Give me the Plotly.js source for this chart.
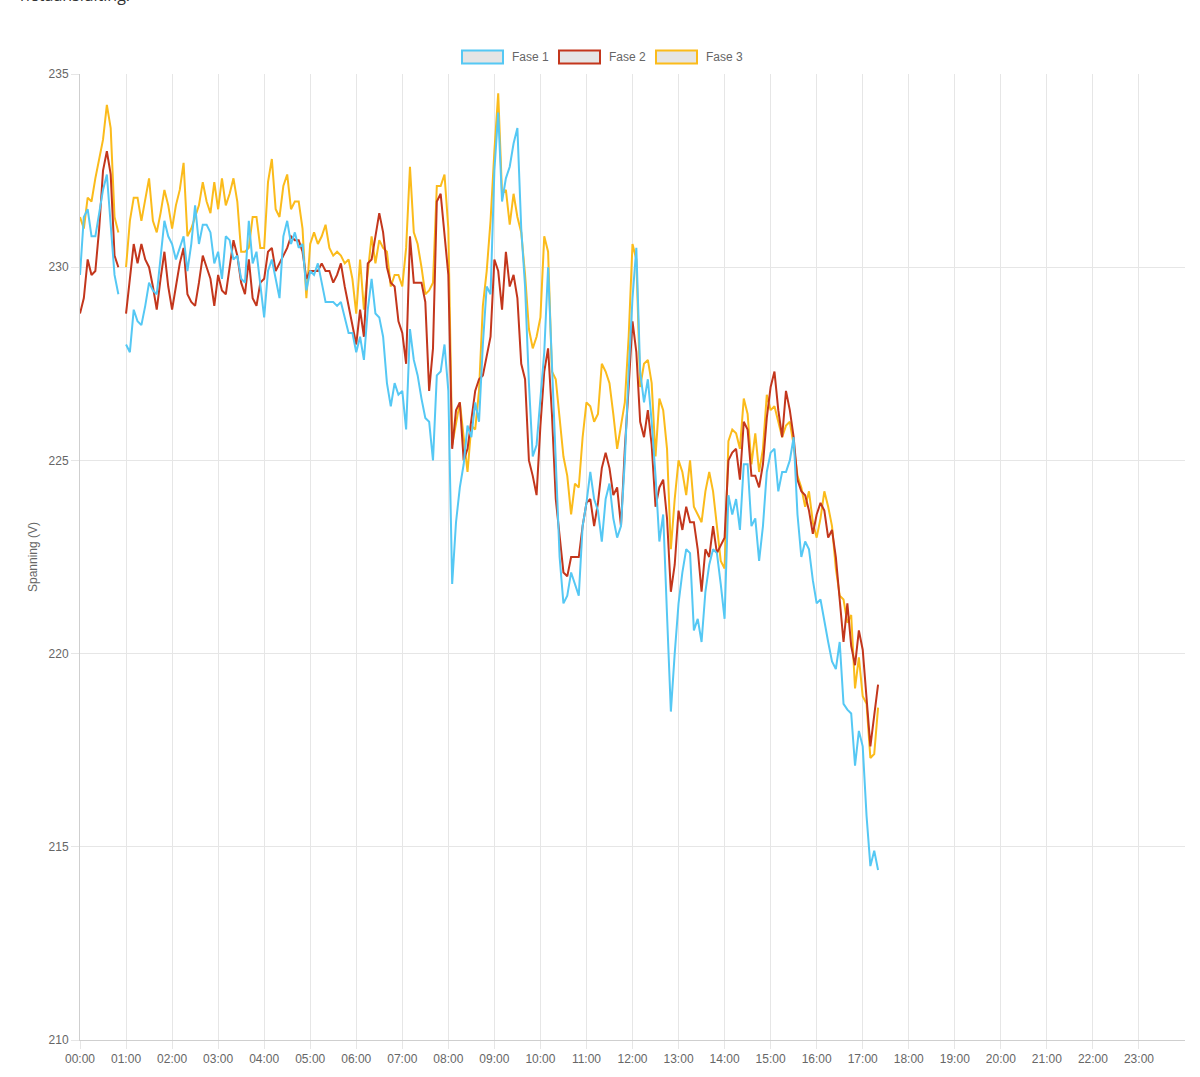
<!DOCTYPE html>
<html>
<head>
<meta charset="utf-8">
<script src="https://cdn.plot.ly/plotly-3.0.1.min.js"></script>
<style>
  html, body { margin: 0; padding: 0; background: #fff; }
  #chart { width: 1200px; height: 1077px; }
</style>
</head>
<body>
<div id="chart"></div>
<script>
// spanning per fase, one reading every 5 minutes from 00:00
const fase1 = [
  229.8, 231.3, 231.5, 230.8, 230.8, 231.4, 232.0, 232.4, 231.0, 229.8, 229.3, null,
  228.0, 227.8, 228.9, 228.6, 228.5, 229.0, 229.6, 229.4, 229.3, 230.3, 231.2, 230.8,
  230.6, 230.2, 230.5, 230.8, 229.9, 230.6, 231.6, 230.6, 231.1, 231.1, 230.9, 230.1,
  230.4, 229.7, 230.8, 230.7, 230.2, 230.3, 229.7, 229.6, 231.2, 230.1, 230.4, 229.6,
  228.7, 229.9, 230.2, 229.7, 229.2, 230.8, 231.2, 230.6, 230.9, 230.5, 230.6, 229.4,
  229.9, 229.8, 230.1, 229.6, 229.1, 229.1, 229.1, 229.0, 229.1, 228.7, 228.3, 228.3,
  227.8, 228.2, 227.6, 228.9, 229.7, 228.8, 228.7, 228.2, 227.0, 226.4, 227.0, 226.7,
  226.8, 225.8, 228.4, 227.6, 227.2, 226.6, 226.1, 226.0, 225.0, 227.2, 227.3, 228.0,
  226.8, 221.8, 223.4, 224.3, 224.9, 225.9, 225.6, 226.5, 226.0, 228.0, 229.5, 229.3,
  232.5, 234.0, 231.7, 232.3, 232.6, 233.2, 233.6, 231.0, 229.5, 227.0, 225.1, 225.4,
  226.5, 227.8, 230.0, 227.5, 224.8, 222.5, 221.3, 221.5, 222.1, 221.8, 221.5, 223.3,
  223.9, 224.7, 224.0, 223.7, 222.9, 224.0, 224.4, 223.5, 223.0, 223.3, 225.0, 227.3,
  229.2, 230.5, 227.3, 226.5, 227.1, 226.0, 224.6, 222.9, 223.6, 221.0, 218.5, 220.0,
  221.3, 222.1, 222.7, 222.6, 220.6, 220.9, 220.3, 221.6, 222.3, 222.7, 222.6, 221.8,
  220.9, 224.1, 223.6, 224.0, 223.2, 224.9, 224.9, 223.3, 223.5, 222.4, 223.3, 224.7,
  225.2, 225.3, 224.2, 224.7, 224.7, 225.0, 225.6, 223.6, 222.5, 222.9, 222.7, 221.9,
  221.3, 221.4, 220.8, 220.3, 219.8, 219.6, 220.3, 218.7, 218.55, 218.45, 217.1, 218.0,
  217.6, 215.8, 214.5, 214.9, 214.4
];

const fase2 = [
  228.8, 229.2, 230.2, 229.8, 229.9, 231.0, 232.5, 233.0, 232.4, 230.3, 230.0, null,
  228.8, 229.7, 230.6, 230.1, 230.6, 230.2, 230.0, 229.5, 228.9, 229.7, 230.4, 229.5,
  228.9, 229.5, 230.1, 230.5, 229.3, 229.1, 229.0, 229.6, 230.3, 230.0, 229.7, 229.0,
  229.8, 229.4, 229.3, 230.0, 230.7, 230.3, 229.6, 229.3, 230.2, 229.2, 229.0, 229.6,
  229.7, 230.4, 230.5, 229.9, 230.1, 230.3, 230.5, 230.8, 230.7, 230.7, 230.4, 229.7,
  229.9, 229.9, 229.9, 230.1, 229.9, 229.9, 229.6, 229.8, 230.1, 229.5, 229.0, 228.5,
  228.0, 228.9, 228.2, 230.1, 230.2, 230.8, 231.4, 230.9, 230.0, 229.6, 229.5, 228.6,
  228.3, 227.5, 230.8, 229.6, 229.6, 229.6, 229.1, 226.8, 227.9, 231.7, 231.9, 230.8,
  229.8, 225.3, 226.3, 226.5, 225.0, 225.3, 226.0, 226.8, 227.1, 227.2, 227.7, 228.2,
  230.2, 229.9, 228.9, 230.4, 229.5, 229.8, 229.2, 227.5, 227.1, 225.0, 224.6, 224.1,
  225.9, 227.3, 227.9, 226.2, 224.0, 223.0, 222.1, 222.0, 222.5, 222.5, 222.5, 223.3,
  223.9, 224.0, 223.3, 223.9, 224.8, 225.2, 224.8, 224.1, 224.3, 223.3, 225.3, 226.9,
  228.6, 227.8, 226.0, 225.6, 226.3, 225.4, 223.8, 224.3, 224.5, 223.5, 221.6, 222.3,
  223.7, 223.2, 223.8, 223.4, 223.4, 222.7, 221.6, 222.7, 222.5, 223.3, 222.6, 222.8,
  223.0, 225.0, 225.2, 225.3, 224.5, 226.0, 225.8, 224.6, 224.6, 224.3, 224.9, 226.1,
  226.9, 227.3, 226.3, 225.6, 226.8, 226.3, 225.6, 224.5, 224.2, 224.1, 223.7, 223.1,
  223.6, 223.9, 223.7, 223.0, 223.2, 222.5, 221.3, 220.3, 221.3, 220.2, 219.7, 220.6,
  220.1, 218.8, 217.6, 218.4, 219.2
];

const fase3 = [
  231.3, 231.0, 231.8, 231.7, 232.3, 232.8, 233.3, 234.2, 233.6, 231.3, 230.9, null,
  230.0, 231.2, 231.8, 231.8, 231.2, 231.8, 232.3, 231.2, 230.9, 231.4, 232.0, 231.6,
  231.0, 231.6, 232.0, 232.7, 230.8, 231.0, 231.3, 231.6, 232.2, 231.7, 231.4, 232.2,
  231.5, 232.3, 231.6, 231.9, 232.3, 231.7, 230.4, 230.4, 230.5, 231.3, 231.3, 230.5,
  230.5, 232.2, 232.8, 231.5, 231.3, 232.1, 232.4, 231.5, 231.7, 231.7, 231.0, 229.2,
  230.6, 230.9, 230.6, 230.8, 231.1, 230.5, 230.3, 230.4, 230.3, 230.1, 230.2, 229.7,
  228.8, 230.2, 228.9, 229.9, 230.8, 230.1, 230.7, 230.5, 230.4, 229.5, 229.8, 229.8,
  229.5, 230.5, 232.6, 230.9, 230.6, 230.0, 229.3, 229.4, 229.6, 232.1, 232.1, 232.4,
  231.0, 225.4, 226.0, 226.5, 225.6, 224.7, 225.9, 225.8, 226.8, 229.0, 229.9, 231.2,
  233.0, 234.5, 231.9, 232.0, 231.1, 231.9, 231.3, 230.9, 229.8, 228.4, 227.9, 228.2,
  228.7, 230.8, 230.4, 227.3, 227.1, 226.0, 225.1, 224.6, 223.6, 224.4, 224.3, 225.6,
  226.5, 226.4, 226.0, 226.2, 227.5, 227.3, 227.0, 226.2, 225.3, 225.9, 226.5, 228.2,
  230.6, 230.2, 226.9, 227.5, 227.6, 227.0, 225.1, 226.6, 226.3, 225.3, 222.7, 224.0,
  225.0, 224.7, 224.1, 225.0, 223.8, 223.6, 223.4, 224.2, 224.7, 224.2, 223.3, 222.4,
  222.2, 225.5, 225.8, 225.7, 225.3, 226.6, 226.2, 224.9, 225.7, 224.7, 225.3, 226.7,
  226.3, 226.4, 226.0, 225.6, 225.9, 226.0, 225.4, 224.6, 224.3, 223.8, 224.2, 223.4,
  223.0, 223.5, 224.2, 223.8, 223.3, 222.2, 221.5, 221.4, 220.8, 221.0, 219.1, 219.9,
  218.9, 218.7, 217.3, 217.4, 218.6
];

const seriesNames = ["Fase 1", "Fase 2", "Fase 3"];
const seriesColors = ["#55c8f4", "#c3361c", "#fbbb1b"];

const tickLabels = [
  "00:00", "01:00", "02:00", "03:00", "04:00", "05:00", "06:00", "07:00",
  "08:00", "09:00", "10:00", "11:00", "12:00", "13:00", "14:00", "15:00",
  "16:00", "17:00", "18:00", "19:00", "20:00", "21:00", "22:00", "23:00"
];

// minutes since midnight, 5 minute sampling
const minutes = fase1.map((_, i) => i * 5);

const gridColor = "#e6e6e6";
const textColor = "#666";
const font = "Liberation Sans, Arial, Helvetica, sans-serif";

// plot area in pixels, used to place the hand drawn legend
const plotL = 80, plotR = 1185, plotT = 74, plotB = 1040;
const px = x => (x - plotL) / (plotR - plotL);
const py = y => (plotB - y) / (plotB - plotT);

const data = [fase3, fase2, fase1].map((vals, k) => {
  const idx = 2 - k;
  return {
    x: minutes,
    y: vals,
    name: seriesNames[idx],
    type: "scatter",
    mode: "lines",
    line: { color: seriesColors[idx], width: 2 },
    connectgaps: false,
    hoverinfo: "skip"
  };
});

const legendX = [462, 559, 656];
const shapes = legendX.map((x, i) => ({
  type: "rect", xref: "paper", yref: "paper",
  x0: px(x), x1: px(x + 41), y0: py(63.5), y1: py(50.5),
  fillcolor: "#e5e5e5",
  line: { color: seriesColors[i], width: 2 }
}));

const annotations = legendX.map((x, i) => ({
  xref: "paper", yref: "paper",
  x: px(x + 48), y: py(57),
  xanchor: "left", yanchor: "middle",
  text: seriesNames[i],
  showarrow: false,
  font: { family: font, size: 12, color: textColor }
}));

// tail end of the page paragraph above the chart
annotations.push({
  xref: "paper", yref: "paper",
  x: px(18), y: py(8),
  xanchor: "left", yanchor: "bottom",
  text: "netaansluiting.",
  showarrow: false,
  font: { family: "Open Sans, sans-serif", size: 16, color: "#333" }
});

const layout = {
  width: 1200,
  height: 1077,
  margin: { l: plotL, r: 1200 - plotR, t: plotT, b: 1077 - plotB },
  paper_bgcolor: "#fff",
  plot_bgcolor: "#fff",
  showlegend: false,
  font: { family: font, size: 12, color: textColor },
  xaxis: {
    range: [0, 1440],
    tickvals: tickLabels.map((_, h) => h * 60),
    ticktext: tickLabels,
    showgrid: true,
    gridcolor: gridColor,
    gridwidth: 1,
    zeroline: false,
    showline: true,
    linecolor: "#cfcfcf",
    linewidth: 1,
    ticks: "outside",
    ticklen: 8,
    tickcolor: gridColor,
    tickfont: { family: font, size: 12, color: textColor },
    fixedrange: true
  },
  yaxis: {
    range: [210, 235],
    tickvals: [210, 215, 220, 225, 230, 235],
    showgrid: true,
    gridcolor: gridColor,
    gridwidth: 1,
    zeroline: false,
    showline: true,
    linecolor: "#cfcfcf",
    linewidth: 1,
    ticks: "outside",
    ticklen: 8,
    tickcolor: gridColor,
    tickfont: { family: font, size: 12, color: textColor },
    title: { text: "Spanning (V)", font: { family: font, size: 12, color: textColor }, standoff: 8 },
    fixedrange: true
  },
  shapes: shapes,
  annotations: annotations
};

Plotly.newPlot("chart", data, layout, { displayModeBar: false, staticPlot: true });
</script>
</body>
</html>
